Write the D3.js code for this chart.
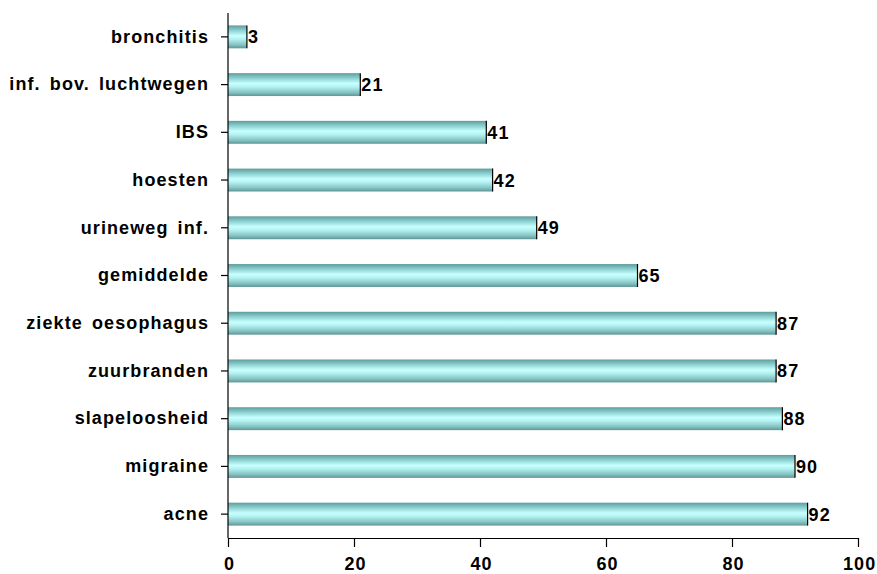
<!DOCTYPE html>
<html>
<head>
<meta charset="utf-8">
<script src="https://cdn.jsdelivr.net/npm/d3@7"></script>
<style>
  body { margin: 0; background: #fff; }
  svg text { font-family: "Liberation Sans", Arial, sans-serif; font-weight: bold; fill: #000; letter-spacing: 1.1px; }
</style>
</head>
<body>
<svg id="chart" width="877" height="574"></svg>
<script>
// Data
const categories = ["bronchitis", "inf. bov. luchtwegen", "IBS", "hoesten", "urineweg inf.",
    "gemiddelde", "ziekte oesophagus", "zuurbranden", "slapeloosheid", "migraine", "acne"];
const values = [3, 21, 41, 42, 49, 65, 87, 87, 88, 90, 92];
const xTicks = [0, 20, 40, 60, 80, 100];

const svg = d3.select("#chart");
const margin = {top: 13, right: 19, bottom: 36, left: 228};
const width = 877, height = 574;
const plotW = width - margin.left - margin.right;
const plotH = height - margin.top - margin.bottom;

const x = d3.scaleLinear().domain([0, 100]).range([0, plotW]);
const y = d3.scaleBand().domain(categories).range([0, plotH]).paddingInner(0.52).paddingOuter(0.26);

// Gradient for the bars
const defs = svg.append("defs");
const grad = defs.append("linearGradient")
    .attr("id", "barGrad")
    .attr("x1", 0).attr("y1", 0).attr("x2", 0).attr("y2", 1);
[
    [0, "#5f9c9c"], [0.2, "#88cccc"], [0.45, "#c8ffff"], [0.6, "#b4f2f2"],
    [0.85, "#84c2c2"], [1, "#5f9595"]
].forEach(s => grad.append("stop").attr("offset", s[0]).attr("stop-color", s[1]));

const g = svg.append("g").attr("transform", `translate(${margin.left},${margin.top})`);

// Bars
const bars = g.selectAll(".bar").data(categories).enter().append("g").attr("class", "bar");
bars.append("rect")
    .attr("x", 0)
    .attr("y", d => y(d))
    .attr("width", (d, i) => x(values[i]))
    .attr("height", y.bandwidth())
    .attr("fill", "url(#barGrad)");
bars.append("line")
    .attr("x1", (d, i) => x(values[i]))
    .attr("x2", (d, i) => x(values[i]))
    .attr("y1", d => y(d))
    .attr("y2", d => y(d) + y.bandwidth())
    .attr("stroke", "#000")
    .attr("stroke-width", 1.2);
bars.append("text")
    .attr("x", (d, i) => x(values[i]) + 1)
    .attr("y", d => y(d) + y.bandwidth() / 2)
    .attr("dy", "0.36em")
    .attr("font-size", 18)
    .text((d, i) => values[i]);

// X axis
const xAxis = g.append("g")
    .attr("transform", `translate(0,${plotH})`)
    .call(d3.axisBottom(x).tickValues(xTicks).tickSize(9).tickPadding(10).tickSizeOuter(0));
xAxis.selectAll("text").attr("font-size", 18).attr("dx", "0.06em");
xAxis.selectAll("line, path").attr("stroke", "#000").attr("stroke-width", 1.2);

// Y axis
const yAxis = g.append("g")
    .call(d3.axisLeft(y).tickSize(7).tickPadding(12).tickSizeOuter(0));
yAxis.selectAll("text").attr("font-size", 18).style("word-spacing", "3px");
yAxis.selectAll("line, path").attr("stroke", "#000").attr("stroke-width", 1.2);
yAxis.select(".domain").attr("d", `M0,0V${plotH}`);
</script>
</body>
</html>
